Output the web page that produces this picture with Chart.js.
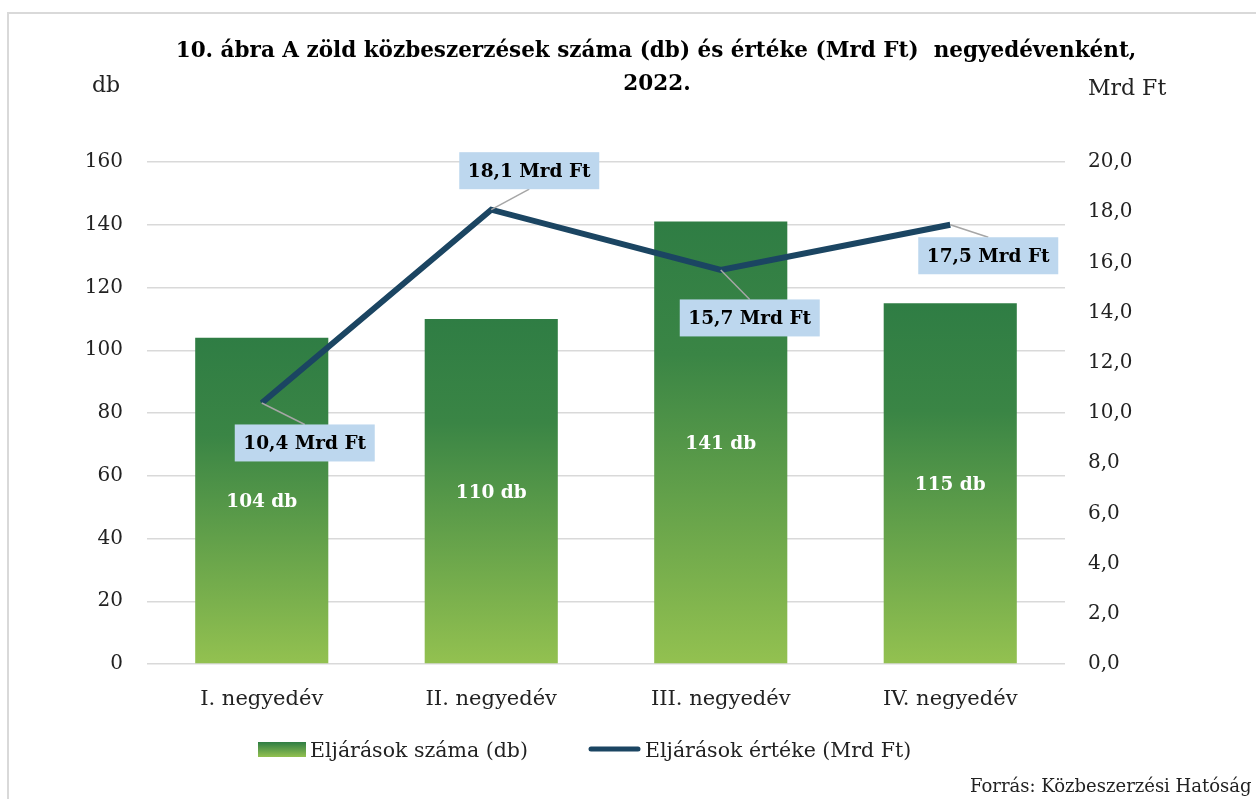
<!DOCTYPE html>
<html>
<head>
<meta charset="utf-8">
<script src="https://cdn.jsdelivr.net/npm/chart.js@4/dist/chart.umd.min.js"></script>
<style>
  html, body { margin: 0; padding: 0; background: #fff; overflow: hidden; }
  #frame { position: absolute; left: 7px; top: 12px; width: 1300px; height: 900px; border: 2px solid #d9d9d9; }
  #wrap { position: absolute; left: 0; top: 0; width: 1256px; height: 799px; }
</style>
</head>
<body>
<div id="frame"></div>
<div id="wrap"><canvas id="chart"></canvas></div>
<script>
// adatok
var quarters = ['I. negyedév', 'II. negyedév', 'III. negyedév', 'IV. negyedév'];
var counts = [104, 110, 141, 115];       // db
var amounts = [10.4, 18.1, 15.7, 17.5];  // Mrd Ft
var countTicks = { min: 0, max: 160, step: 20 };
var amountTicks = { min: 0, max: 20, step: 2 };

var serif = "'DejaVu Serif', 'Liberation Serif', serif";
var lineColor = '#1b4562';

function fmt(v, d) {
  return v.toFixed(d).replace('.', ',');
}

// per-bar gradient (dark on top, light green at the bottom)
function barGradient(ctx) {
  var chart = ctx.chart;
  if (!chart.chartArea || ctx.type !== 'data') return '#3a8545';
  var y = chart.scales.y;
  var top = y.getPixelForValue(ctx.raw);
  var bottom = y.getPixelForValue(0);
  var g = chart.ctx.createLinearGradient(0, top, 0, bottom);
  g.addColorStop(0, '#2f7d44');
  g.addColorStop(0.3, '#3a8545');
  g.addColorStop(1, '#93c150');
  return g;
}

var labelsPlugin = {
  id: 'labels',
  afterDatasetsDraw: function (chart) {
    var ctx = chart.ctx;
    ctx.save();
    // bar labels
    var bars = chart.getDatasetMeta(0).data;
    ctx.fillStyle = '#fff';
    ctx.font = 'bold 18.5px ' + serif;
    ctx.textAlign = 'center';
    ctx.textBaseline = 'middle';
    bars.forEach(function (b, i) {
      ctx.fillText(counts[i] + ' db', b.x, (b.y + b.base) / 2 + 2);
    });
    // line labels with callout boxes
    var offsets = [[43, 40], [38, -39], [29, 48], [38, 31]];
    var pts = chart.getDatasetMeta(1).data;
    var bw = 140, bh = 37;
    pts.forEach(function (p, i) {
      var cx = p.x + offsets[i][0], cy = p.y + offsets[i][1];
      var ey = offsets[i][1] > 0 ? cy - bh / 2 : cy + bh / 2;
      ctx.strokeStyle = '#a6a6a6';
      ctx.lineWidth = 1.5;
      ctx.beginPath();
      ctx.moveTo(p.x, p.y);
      ctx.lineTo(cx, ey);
      ctx.stroke();
      ctx.fillStyle = '#bdd7ee';
      ctx.fillRect(cx - bw / 2, cy - bh / 2, bw, bh);
      ctx.fillStyle = '#000';
      ctx.font = 'bold 18.5px ' + serif;
      ctx.fillText(fmt(amounts[i], 1) + ' Mrd Ft', cx, cy + 1);
    });
    ctx.restore();
  },
  afterDraw: function (chart) {
    var ctx = chart.ctx;
    ctx.save();
    ctx.fillStyle = '#000';
    ctx.textAlign = 'center';
    ctx.textBaseline = 'alphabetic';
    ctx.font = 'bold 21.5px ' + serif;
    ctx.fillText('10. ábra A zöld közbeszerzések száma (db) és értéke (Mrd Ft)  negyedévenként,', 656, 57);
    ctx.fillText('2022.', 657, 90);

    ctx.font = '22px ' + serif;
    ctx.textAlign = 'left';
    ctx.fillStyle = '#222';
    ctx.fillText('db', 92, 92);
    ctx.fillText('Mrd Ft', 1088, 95);

    // legend
    var g = ctx.createLinearGradient(0, 742, 0, 757);
    g.addColorStop(0, '#2f7d44');
    g.addColorStop(1, '#93c150');
    ctx.fillStyle = g;
    ctx.fillRect(258, 742, 48, 15);
    ctx.strokeStyle = lineColor;
    ctx.lineWidth = 5;
    ctx.lineCap = 'round';
    ctx.beginPath();
    ctx.moveTo(591, 749);
    ctx.lineTo(638, 749);
    ctx.stroke();
    ctx.fillStyle = '#222';
    ctx.font = '20.5px ' + serif;
    ctx.fillText('Eljárások száma (db)', 310, 757);
    ctx.fillText('Eljárások értéke (Mrd Ft)', 645, 757);

    ctx.font = '18px ' + serif;
    ctx.fillText('Forrás: Közbeszerzési Hatóság', 970, 792);
    ctx.restore();
  }
};

new Chart(document.getElementById('chart'), {
  type: 'bar',
  data: {
    labels: quarters,
    datasets: [
      {
        label: 'Eljárások száma (db)',
        data: counts,
        yAxisID: 'y',
        backgroundColor: barGradient,
        barPercentage: 0.58,
        categoryPercentage: 1,
        order: 1
      },
      {
        type: 'line',
        label: 'Eljárások értéke (Mrd Ft)',
        data: amounts,
        yAxisID: 'y1',
        borderColor: lineColor,
        borderWidth: 6,
        borderJoinStyle: 'miter',
        pointRadius: 0,
        tension: 0,
        order: 0
      }
    ]
  },
  options: {
    responsive: true,
    maintainAspectRatio: false,
    animation: false,
    layout: { padding: { left: 0, right: 0, top: 162, bottom: 0 } },
    plugins: {
      legend: { display: false },
      title: { display: false },
      tooltip: { enabled: false }
    },
    scales: {
      x: {
        grid: { display: false },
        border: { display: false },
        ticks: { color: '#222', font: { family: serif, size: 21 }, padding: 15 },
        afterFit: function (s) { s.height = 135; }
      },
      y: {
        position: 'left',
        min: countTicks.min,
        max: countTicks.max,
        ticks: { stepSize: countTicks.step, color: '#222', font: { family: serif, size: 20 }, padding: 24 },
        grid: { color: '#d9d9d9', lineWidth: 1.5, drawTicks: false },
        border: { display: false },
        afterFit: function (s) { s.width = 147; }
      },
      y1: {
        position: 'right',
        min: amountTicks.min,
        max: amountTicks.max,
        ticks: {
          stepSize: amountTicks.step, color: '#222', font: { family: serif, size: 20 }, padding: 23,
          callback: function (v) { return fmt(v, 1); }
        },
        grid: { display: false, drawTicks: false },
        border: { display: false },
        afterFit: function (s) { s.width = 191; }
      }
    }
  },
  plugins: [labelsPlugin]
});
</script>
</body>
</html>
